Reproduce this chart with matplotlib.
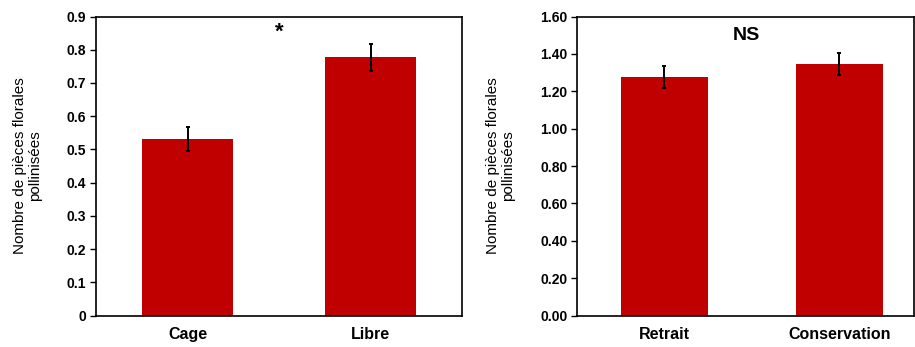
import matplotlib.pyplot as plt
from matplotlib.ticker import FuncFormatter

# data
cats_left = ['Cage', 'Libre']
vals_left = [0.531, 0.777]
err_left = [0.036, 0.040]

cats_right = ['Retrait', 'Conservation']
vals_right = [1.277, 1.345]
err_right = [0.060, 0.058]

ylabel = 'Nombre de pièces florales\npollinisées'
red = '#C00000'

plt.rcParams['font.family'] = ['Liberation Sans', 'DejaVu Sans']

fig = plt.figure(figsize=(9.15, 3.47), dpi=100)
W, H = 915, 347
bottom = (H - 315.5) / H
height = 299 / H
ax1 = fig.add_axes([96 / W, bottom, 366 / W, height])
ax2 = fig.add_axes([577 / W, bottom, 337 / W, height])


def style(ax, cats, vals, errs, ymax, step, fmt, xmax):
    x = range(len(cats))
    ax.bar(x, vals, width=0.5, color=red, zorder=2)
    ax.errorbar(x, vals, yerr=errs, fmt='none', ecolor='black',
                elinewidth=1.4, capsize=1.5, capthick=1.4, zorder=3)
    ax.set_xlim(-0.5, xmax)
    ax.set_ylim(0, ymax)
    n = int(round(ymax / step))
    ax.set_yticks([i * step for i in range(n + 1)])
    ax.yaxis.set_major_formatter(FuncFormatter(fmt))
    ax.set_xticks(list(x))
    ax.set_xticklabels(cats, fontsize=11.5, fontweight='bold')
    ax.tick_params(axis='x', length=0, pad=8)
    ax.tick_params(axis='y', direction='out', length=4, width=1, pad=3,
                   labelsize=10)
    for lab in ax.get_yticklabels():
        lab.set_fontweight('bold')
    for s in ax.spines.values():
        s.set_linewidth(1.2)
    ax.set_ylabel(ylabel, fontsize=11, linespacing=1.1, labelpad=18)


style(ax1, cats_left, vals_left, err_left, 0.9, 0.1,
      lambda v, p: '0' if abs(v) < 1e-9 else f'{v:.1f}', 1.5)
style(ax2, cats_right, vals_right, err_right, 1.6, 0.2,
      lambda v, p: f'{v:.2f}', 1.426)

ax1.text(0.5, 0.852, '*', fontsize=16, fontweight='bold', ha='center', va='center')
ax2.text(0.47, 1.5, 'NS', fontsize=14, fontweight='bold', ha='center', va='center')

fig.savefig('out.png', dpi=100)
